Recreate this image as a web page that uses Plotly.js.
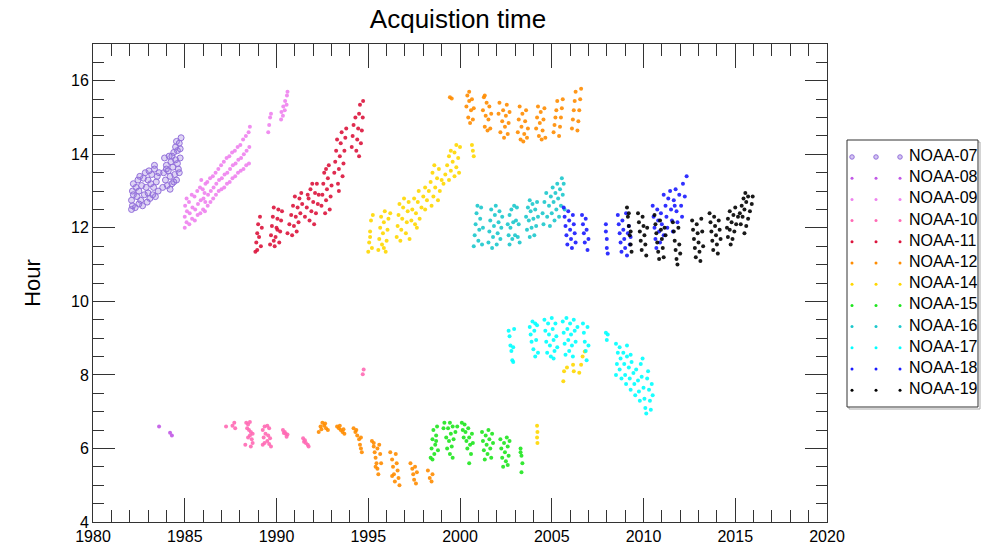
<!DOCTYPE html>
<html><head><meta charset="utf-8">
<script src="https://cdn.plot.ly/plotly-3.0.1.min.js"></script>
<style>html,body{margin:0;padding:0;background:#fff}#chart{width:985px;height:544px}</style>
</head><body><div id="chart"></div>
<script>
const satellites = ['NOAA-07','NOAA-08','NOAA-09','NOAA-10','NOAA-11','NOAA-12','NOAA-14','NOAA-15','NOAA-16','NOAA-17','NOAA-18','NOAA-19'];
const colors = ['#9370db','#c158e6','#ee82ee','#ff69b4','#dc143c','#ff8c00','#ffd700','#1ee61e','#1cc8cc','#00ffff','#1a1aff','#000000'];

const noaa07 = [[1982.1,12.5],[1982.1,12.75],[1982.15,13.0],[1982.2,13.2],[1982.15,12.6],[1982.2,12.9],[1982.3,12.55],[1982.35,13.1],[1982.4,12.85],[1982.45,13.3],[1982.5,12.65],[1982.5,13.0],[1982.55,13.4],[1982.6,12.75],[1982.65,13.15],[1982.7,12.6],[1982.75,13.35],[1982.8,12.9],[1982.85,13.5],[1982.9,13.1],[1982.95,12.7],[1983.0,13.3],[1983.0,12.95],[1983.05,13.55],[1983.1,12.8],[1983.15,13.2],[1983.2,13.45],[1983.25,12.9],[1983.3,13.1],[1983.35,13.6],[1983.4,12.85],[1983.45,13.25],[1983.5,13.4],[1983.55,13.0],[1983.6,13.5],[1983.35,13.7],
 [1983.8,13.1],[1983.85,13.5],[1983.9,13.9],[1983.95,13.3],[1984.0,13.7],[1984.05,13.15],[1984.1,13.55],[1984.15,13.95],[1984.2,13.4],[1984.25,13.8],[1984.3,13.2],[1984.35,13.65],[1984.4,14.05],[1984.45,13.45],[1984.5,13.85],[1984.55,13.3],[1984.6,14.1],[1984.65,13.6],[1984.7,14.3],[1984.75,13.9],[1984.8,14.45],[1984.5,14.2],[1984.3,13.95],[1984.6,13.75],[1984.7,13.5],[1984.4,13.25],[1984.55,14.35],[1984.75,14.15],[1984.2,13.05],[1984.0,13.6]];

const noaa08 = [[1983.6,6.6],[1984.2,6.43],[1984.3,6.35]];

const noaa09 = [[1985.0,12.0],[1985.0,12.3],[1985.02,12.6],[1985.1,12.15],[1985.12,12.45],[1985.1,12.8],[1985.25,12.1],[1985.27,12.4],[1985.23,12.7],[1985.4,12.25],[1985.42,12.55],[1985.38,12.9],[1985.55,12.2],[1985.57,12.5],[1985.53,12.85],[1985.7,12.35],[1985.72,12.65],[1985.68,13.0],[1985.85,12.4],[1985.87,12.75],[1985.83,13.1],[1985.9,13.3],[1986.0,12.5],[1986.02,12.8],[1985.98,13.05],[1986.1,12.45],[1986.12,12.7],[1986.08,12.95],[1986.13,13.2],[1986.25,12.6],[1986.27,12.9],[1986.23,13.25],[1986.4,12.7],[1986.42,13.0],[1986.38,13.35],[1986.55,12.8],[1986.57,13.1],[1986.53,13.4],[1986.7,12.9],[1986.72,13.2],[1986.68,13.5],[1986.85,13.0],[1986.87,13.3],[1986.83,13.6],[1987.0,13.05],[1987.02,13.35],[1986.98,13.7],[1987.15,13.1],[1987.17,13.45],[1987.13,13.8],[1987.3,13.2],[1987.32,13.5],[1987.28,13.9],[1987.45,13.25],[1987.47,13.6],[1987.43,13.95],[1987.6,13.35],[1987.62,13.7],[1987.58,14.05],[1987.75,13.4],[1987.77,13.75],[1987.73,14.1],[1987.9,13.5],[1987.92,13.85],[1987.88,14.2],[1988.05,13.55],[1988.07,13.9],[1988.03,14.25],[1988.2,13.6],[1988.22,14.0],[1988.18,14.4],[1988.35,13.7],[1988.37,14.1],[1988.33,14.5],[1988.5,13.75],[1988.52,14.2],[1988.48,14.6],[1988.55,14.75],
 [1989.55,14.6],[1989.6,14.8],[1989.65,15.0],[1989.7,15.1],[1990.25,14.95],[1990.27,15.15],[1990.35,15.05],[1990.37,15.3],[1990.45,15.2],[1990.47,15.45],[1990.55,15.35],[1990.57,15.6],[1990.6,15.7]];

const noaa10 = [[1987.25,6.6],[1987.6,6.62],[1987.7,6.7],[1987.75,6.55],[1988.35,6.7],[1988.45,6.65],[1988.55,6.72],[1988.4,6.55],[1988.5,6.5],[1988.6,6.45],[1988.55,6.35],[1988.65,6.25],[1988.7,6.15],[1988.6,6.05],[1988.3,6.1],[1988.45,6.3],[1988.7,6.4],[1989.25,6.5],[1989.35,6.6],[1989.5,6.62],[1989.6,6.55],[1989.3,6.3],[1989.4,6.4],[1989.55,6.35],[1989.65,6.28],[1989.25,6.1],[1989.35,6.15],[1989.5,6.2],[1989.6,6.12],[1989.7,6.05],[1990.35,6.5],[1990.45,6.45],[1990.5,6.4],[1990.6,6.38],[1990.55,6.32],[1990.4,6.42],[1991.45,6.28],[1991.55,6.22],[1991.6,6.15],[1991.7,6.1],[1991.75,6.05],[1991.5,6.18],[1994.75,8.15],[1994.7,8.02]];

const noaa11 = [[1988.85,11.35],[1988.9,11.6],[1988.95,11.85],[1989.0,12.1],[1989.1,12.3],[1989.15,11.5],[1989.05,11.75],[1989.2,12.0],[1988.95,11.4],
 [1989.65,11.55],[1989.7,11.8],[1989.75,12.05],[1989.8,12.3],[1989.85,12.55],[1989.9,11.5],[1989.95,11.75],[1990.0,12.0],[1990.05,12.25],[1990.1,12.5],[1990.15,11.6],[1990.2,11.9],[1990.25,12.2],[1990.3,12.45],[1989.85,11.65],[1990.05,11.95],
 [1990.6,11.85],[1990.7,12.1],[1990.8,12.35],[1990.9,12.6],[1991.0,12.85],[1990.85,11.8],[1990.95,12.05],[1991.05,12.3],[1991.15,12.55],[1991.25,12.8],[1991.1,11.9],[1991.2,12.15],[1991.3,12.4],[1991.4,12.65],[1991.35,12.95],
 [1991.55,12.3],[1991.65,12.55],[1991.75,12.8],[1991.85,13.05],[1991.8,12.2],[1991.9,12.45],[1992.0,12.7],[1992.1,12.95],[1992.2,13.2],[1992.05,12.1],[1992.15,12.4],[1992.25,12.65],[1992.3,12.9],[1991.95,13.2],[1991.7,12.9],
 [1992.45,12.6],[1992.5,12.9],[1992.55,13.2],[1992.6,13.5],[1992.65,12.4],[1992.7,12.75],[1992.75,13.05],[1992.8,13.35],[1992.85,13.7],[1992.9,12.5],[1992.95,12.85],[1993.0,13.15],[1992.7,13.6],
 [1993.15,13.5],[1993.2,13.8],[1993.25,14.1],[1993.3,14.4],[1993.35,13.2],[1993.4,13.6],[1993.45,13.95],[1993.5,14.3],[1993.55,14.6],[1993.6,13.4],[1993.65,13.75],[1993.7,14.1],[1993.75,14.45],[1993.4,13.0],[1993.8,14.7],
 [1994.1,14.2],[1994.15,14.5],[1994.2,14.8],[1994.3,15.0],[1994.35,14.1],[1994.4,14.4],[1994.45,14.7],[1994.5,15.1],[1994.55,15.35],[1994.6,14.3],[1994.65,14.65],[1994.7,15.0],[1994.72,15.45],[1994.5,13.95]];

const noaa12 = [[1992.3,6.45],[1992.4,6.6],[1992.5,6.7],[1992.6,6.62],[1992.7,6.55],[1992.8,6.5],[1992.45,6.52],[1992.65,6.68],
 [1993.3,6.6],[1993.4,6.55],[1993.5,6.5],[1993.6,6.45],[1993.7,6.4],[1993.45,6.62],[1993.65,6.52],
 [1994.2,6.55],[1994.3,6.45],[1994.4,6.35],[1994.5,6.25],[1994.55,6.1],[1994.6,6.0],[1994.65,5.9],[1994.35,6.5],[1994.6,6.3],
 [1995.2,6.2],[1995.3,6.05],[1995.35,5.9],[1995.4,5.75],[1995.45,5.6],[1995.5,5.45],[1995.55,5.3],[1995.6,6.1],[1995.65,5.85],[1995.7,5.6],[1995.3,6.15],[1995.5,6.0],[1995.4,5.5],
 [1996.2,5.9],[1996.3,5.7],[1996.35,5.5],[1996.4,5.3],[1996.45,5.1],[1996.5,5.85],[1996.55,5.6],[1996.6,5.4],[1996.65,5.2],[1996.7,5.0],[1996.3,5.25],
 [1997.3,5.6],[1997.4,5.45],[1997.45,5.3],[1997.5,5.15],[1997.55,5.5],[1997.6,5.05],[1997.65,5.35],
 [1998.25,5.4],[1998.35,5.2],[1998.45,5.1],[1998.5,5.3],
 [1999.45,15.55],[1999.55,15.52],
 [2000.35,15.3],[2000.4,15.6],[2000.45,15.0],[2000.5,15.45],[2000.55,14.85],[2000.6,15.2],[2000.65,15.5],[2000.7,14.95],[2000.75,15.25],[2000.5,15.7],
 [2001.25,15.2],[2001.3,15.55],[2001.35,14.75],[2001.4,15.05],[2001.45,15.4],[2001.5,14.65],[2001.55,14.95],[2001.6,15.3],[2001.65,14.7],[2001.7,15.1],[2001.35,15.6],
 [2002.1,15.1],[2002.15,15.4],[2002.2,14.6],[2002.3,14.9],[2002.35,15.2],[2002.4,14.45],[2002.45,14.75],[2002.5,15.05],[2002.55,15.35],[2002.6,14.55],[2002.65,14.85],[2002.7,15.15],
 [2003.15,14.6],[2003.2,14.95],[2003.25,15.3],[2003.3,14.4],[2003.35,14.75],[2003.4,15.1],[2003.45,14.35],[2003.5,14.55],[2003.55,14.9],[2003.6,15.2],[2003.65,14.45],[2003.7,14.7],
 [2004.15,14.7],[2004.2,15.0],[2004.25,15.3],[2004.3,14.5],[2004.35,14.85],[2004.4,15.15],[2004.45,14.4],[2004.5,14.65],[2004.55,14.95],[2004.6,15.25],[2004.65,14.45],
 [2005.1,14.6],[2005.15,14.8],[2005.2,15.0],[2005.25,15.2],[2005.3,15.45],[2005.4,14.5],[2005.45,14.75],[2005.5,15.0],[2005.55,15.25],[2005.6,15.5],
 [2006.1,14.7],[2006.15,14.95],[2006.2,15.2],[2006.25,15.45],[2006.3,15.7],[2006.4,14.65],[2006.45,14.9],[2006.5,15.2],[2006.55,15.5],[2006.6,15.78]];

const noaa14 = [[1995.0,11.35],[1995.05,11.6],[1995.1,11.9],[1995.15,12.2],[1995.2,11.45],[1995.25,12.35],[1995.1,11.75],
 [1995.55,11.4],[1995.6,11.7],[1995.65,12.0],[1995.7,12.3],[1995.75,11.55],[1995.8,11.85],[1995.85,12.15],[1995.9,12.45],[1995.95,11.35],[1996.0,11.65],[1996.05,11.95],[1996.1,12.25],[1996.2,12.4],[1995.85,11.45],
 [1996.55,11.75],[1996.6,12.05],[1996.65,12.35],[1996.7,12.65],[1996.75,11.65],[1996.8,11.95],[1996.85,12.25],[1996.9,12.55],[1996.95,12.8],[1997.05,11.85],[1997.1,12.15],[1997.15,12.45],[1997.2,12.7],[1997.25,11.7],
 [1997.35,12.2],[1997.4,12.5],[1997.5,12.8],[1997.55,12.1],[1997.6,12.4],[1997.7,12.7],[1997.75,13.0],[1997.8,12.25],[1997.9,12.55],[1998.0,12.85],[1998.1,13.1],[1997.65,12.0],
 [1998.1,12.5],[1998.2,12.75],[1998.3,13.0],[1998.4,13.25],[1998.5,13.5],[1998.45,12.6],[1998.55,12.85],[1998.65,13.1],[1998.75,13.35],[1998.85,13.6],[1998.8,12.75],[1998.9,13.0],[1999.0,13.3],[1998.6,13.7],
 [1999.1,13.2],[1999.2,13.45],[1999.3,13.7],[1999.4,13.95],[1999.5,14.1],[1999.4,13.3],[1999.5,13.55],[1999.6,13.8],[1999.7,14.05],[1999.8,14.25],[1999.7,13.4],[1999.8,13.65],[1999.9,13.9],[2000.0,14.2],[1999.95,13.5],
 [2000.65,14.25],[2000.7,14.1],[2000.75,13.95],
 [2004.2,6.62],[2004.22,6.45],[2004.2,6.3],[2004.22,6.15],
 [2005.63,7.83],[2005.67,8.1],[2005.83,8.2],[2006.16,8.28],[2006.2,8.1],[2006.5,8.06],[2006.6,8.28],[2006.68,8.5],[2006.8,8.64]];

const noaa15 = [[1998.4,5.75],[1998.45,6.0],[1998.5,6.25],[1998.55,6.5],[1998.6,5.85],[1998.65,6.1],[1998.7,6.35],[1998.75,6.6],[1998.8,5.95],[1998.5,5.7],[1998.7,6.2],
 [1999.1,6.55],[1999.15,6.7],[1999.25,6.3],[1999.35,6.55],[1999.45,6.7],[1999.3,6.0],[1999.4,6.2],[1999.5,6.4],[1999.6,6.6],[1999.45,5.85],[1999.55,6.05],[1999.65,6.25],[1999.75,6.45],[1999.85,6.6],[1999.6,5.75],
 [2000.1,6.7],[2000.15,6.5],[2000.2,6.3],[2000.25,6.65],[2000.3,6.45],[2000.35,6.2],[2000.4,6.0],[2000.45,6.55],[2000.5,6.3],[2000.55,6.1],[2000.6,5.85],[2000.65,6.4],[2000.7,6.15],[2000.5,5.6],
 [2001.2,6.45],[2001.25,6.2],[2001.3,5.95],[2001.35,5.7],[2001.4,6.35],[2001.45,6.1],[2001.5,5.85],[2001.55,6.5],[2001.6,6.25],[2001.65,6.0],[2001.7,5.75],[2001.75,6.4],[2001.8,6.15],
 [2002.2,6.25],[2002.25,6.0],[2002.3,5.75],[2002.35,5.5],[2002.4,6.15],[2002.45,5.9],[2002.5,5.65],[2002.55,6.3],[2002.6,6.05],[2002.65,5.8],[2002.7,6.2],[2002.6,5.55],
 [2003.3,6.0],[2003.35,5.8],[2003.4,5.6],[2003.35,5.35],[2003.3,5.9]];

const noaa16 = [[2000.75,11.5],[2000.8,11.8],[2000.85,12.1],[2000.9,12.4],[2001.0,11.65],[2001.05,11.95],[2001.1,12.25],[2001.15,12.55],[2001.2,11.55],[2001.25,12.0],[2000.95,12.6],
 [2001.55,11.6],[2001.6,11.9],[2001.65,12.2],[2001.7,12.5],[2001.75,11.45],[2001.8,11.75],[2001.85,12.05],[2001.9,12.35],[2001.95,12.6],[2002.0,11.55],[2002.05,11.85],[2002.1,12.15],[2002.15,12.45],[2002.2,11.7],[2002.25,12.0],[2002.3,12.3],
 [2002.6,12.1],[2002.7,12.35],[2002.8,12.5],[2002.95,12.6],[2003.1,12.55],[2002.65,11.8],[2002.75,12.0],[2002.9,12.15],[2003.05,12.2],[2003.2,12.1],[2002.7,11.55],[2002.85,11.7],[2003.0,11.8],[2003.15,11.75],[2003.25,11.6],
 [2003.6,12.3],[2003.7,12.55],[2003.8,12.75],[2003.65,11.95],[2003.75,12.2],[2003.85,12.45],[2003.95,12.65],[2003.8,11.75],[2003.9,12.0],[2004.0,12.25],[2004.1,12.5],[2004.2,12.7],[2004.05,11.8],[2004.15,12.05],[2004.25,12.3],
 [2004.5,12.4],[2004.6,12.7],[2004.7,12.95],[2004.55,12.1],[2004.75,12.3],[2004.85,12.6],[2004.95,12.85],[2005.05,13.1],[2004.9,12.05],[2005.0,12.4],[2005.1,12.7],[2005.2,12.95],[2005.3,13.2],[2005.15,12.2],[2005.25,12.5],[2005.35,12.8],[2005.45,13.05],[2005.55,13.35],[2005.4,12.3],[2005.5,12.6],[2005.6,12.9],[2005.65,13.2],[2005.7,12.5]];

const noaa17 = [[2002.65,9.2],[2002.7,9.05],[2002.75,8.8],[2002.8,8.65],[2002.85,8.4],[2002.9,8.35],[2002.95,9.25],[2002.9,8.75],
 [2003.8,9.3],[2003.85,9.1],[2003.9,8.9],[2003.95,9.45],[2004.0,8.7],[2004.05,9.2],[2004.1,8.5],[2004.15,8.95],[2004.2,9.35],[2004.25,8.6],[2004.1,9.4],
 [2004.6,9.5],[2004.65,9.2],[2004.7,8.9],[2004.75,8.6],[2004.8,9.4],[2004.85,9.1],[2004.9,8.8],[2004.95,8.5],[2005.0,9.55],[2005.05,9.25],[2005.1,8.95],[2005.15,8.65],[2005.2,9.4],[2005.25,9.05],[2005.3,8.75],[2005.1,8.45],
 [2005.6,9.45],[2005.65,9.15],[2005.7,8.85],[2005.75,8.55],[2005.8,9.55],[2005.85,9.25],[2005.9,8.95],[2005.95,8.65],[2006.0,9.4],[2006.05,9.1],[2006.1,8.8],[2006.15,8.5],[2006.2,9.5],[2006.25,9.2],[2006.3,8.9],[2006.4,9.3],
 [2006.7,9.4],[2006.75,9.15],[2006.8,8.9],[2006.85,8.65],[2006.9,8.4],[2006.95,9.3],[2007.0,8.8],
 [2007.95,9.15],[2008.0,8.95],[2008.05,9.1],
 [2008.5,8.85],[2008.6,8.6],[2008.55,8.3],[2008.5,8.0],[2008.7,8.75],[2008.75,8.45],[2008.7,8.15],[2008.8,7.9],[2008.9,8.6],[2008.95,8.3],[2009.0,8.0],[2009.05,7.75],[2009.1,8.5],[2009.2,8.2],[2009.25,7.9],[2009.3,7.6],[2009.35,8.35],[2009.45,8.05],[2009.5,7.75],[2009.55,7.45],[2009.6,8.15],[2009.7,7.85],[2009.75,7.55],[2009.8,7.3],[2009.85,8.3],[2009.9,7.95],[2010.0,7.65],[2010.05,7.35],[2010.1,7.1],[2010.15,6.95],[2010.2,7.9],[2010.3,7.6],[2010.35,7.3],[2010.4,7.05],[2010.45,7.75],[2010.5,7.45],[2009.1,8.8],[2009.3,8.55],[2009.95,8.45],[2010.25,8.1]];

const noaa18 = [[2005.65,12.55],[2005.7,12.3],[2005.75,12.05],[2005.8,11.8],[2005.85,11.55],[2005.9,12.45],[2005.95,12.2],[2006.0,11.95],[2006.05,11.7],[2006.1,11.45],[2006.15,12.35],[2006.2,12.1],[2006.25,11.85],[2006.3,11.6],
 [2006.65,12.35],[2006.7,12.1],[2006.75,11.85],[2006.8,11.6],[2006.85,12.25],[2006.9,11.95],[2006.95,11.4],[2007.0,11.7],
 [2007.95,12.1],[2007.95,11.9],[2008.0,11.7],[2008.0,11.45],[2008.05,11.3],
 [2008.6,12.35],[2008.65,12.1],[2008.7,11.85],[2008.75,11.6],[2008.8,11.35],[2008.85,12.2],[2008.9,11.95],[2008.95,11.7],[2009.0,11.45],[2009.05,12.4],[2009.1,11.25],[2009.15,11.85],[2009.2,12.05],[2009.25,11.55],[2009.3,11.75],
 [2010.5,12.6],[2010.55,12.3],[2010.6,12.0],[2010.65,11.7],[2010.7,11.45],[2010.75,12.5],[2010.8,12.2],[2010.85,11.9],[2010.9,11.6],[2010.95,12.4],[2011.0,12.1],[2011.1,11.8],
 [2011.1,12.9],[2011.2,12.6],[2011.25,12.3],[2011.3,12.0],[2011.35,12.8],[2011.45,13.0],[2011.5,12.5],[2011.55,12.2],[2011.6,11.9],[2011.65,12.75],[2011.75,13.05],[2011.8,12.45],[2011.85,12.15],[2011.95,12.9],[2012.05,12.6],[2012.1,12.3],[2012.15,13.2],[2012.25,12.85],[2012.35,13.4],[2011.7,12.6]];

const noaa19 = [[2009.1,12.55],[2009.15,12.3],[2009.2,12.05],[2009.25,11.8],[2009.3,11.55],[2009.35,11.35],[2009.2,12.4],[2009.3,11.9],
 [2009.7,12.4],[2009.75,12.15],[2009.8,11.9],[2009.85,11.65],[2009.9,11.4],[2009.95,12.3],[2010.0,12.05],[2010.05,11.8],[2010.1,11.55],[2010.15,11.25],[2010.2,12.0],
 [2010.6,12.35],[2010.65,12.1],[2010.7,11.85],[2010.75,11.6],[2010.8,11.35],[2010.85,11.15],[2010.9,12.2],[2010.95,11.95],[2011.0,11.7],[2011.05,11.45],[2011.1,11.2],[2011.15,12.0],[2011.2,11.8],
 [2011.6,12.15],[2011.65,11.9],[2011.7,11.65],[2011.75,11.4],[2011.8,11.15],[2011.85,11.0],[2011.9,12.0],[2011.95,11.55],[2012.0,11.3],
 [2012.65,12.2],[2012.7,11.95],[2012.75,11.7],[2012.8,11.45],[2012.85,11.2],[2012.9,12.1],[2012.95,11.85],[2013.0,11.6],[2013.05,11.35],[2013.1,11.1],[2013.15,12.25],[2013.2,11.9],[2013.25,11.5],
 [2013.6,12.4],[2013.65,12.15],[2013.7,11.9],[2013.75,11.65],[2013.8,11.4],[2013.85,12.3],[2013.9,12.05],[2013.95,11.8],[2014.0,11.55],[2014.05,11.3],[2014.1,12.2],[2014.15,11.95],[2014.2,11.7],
 [2014.55,12.0],[2014.6,12.25],[2014.7,12.45],[2014.6,11.75],[2014.7,11.95],[2014.8,12.15],[2014.9,12.35],[2015.0,12.55],[2014.75,11.55],[2014.85,11.7],[2014.95,11.9],[2015.05,12.1],[2015.15,12.3],
 [2015.25,12.4],[2015.35,12.6],[2015.45,12.8],[2015.55,12.95],[2015.3,12.1],[2015.4,12.3],[2015.5,12.5],[2015.6,12.7],[2015.7,12.85],[2015.5,11.85],[2015.6,12.05],[2015.7,12.25],[2015.8,12.45],[2015.9,12.65],[2015.95,12.85]];

const seriesData = [noaa07, noaa08, noaa09, noaa10, noaa11, noaa12, noaa14, noaa15, noaa16, noaa17, noaa18, noaa19];

const FONT = 'Liberation Sans, Arial, Helvetica, sans-serif';
const AXC = '#333';
const traces = [];
seriesData.forEach((d, i) => {
  const isOpen = i === 0;
  traces.push({
    type: 'scatter', mode: 'markers', name: satellites[i],
    x: d.map(p => p[0]), y: d.map(p => p[1]),
    showlegend: false, hoverinfo: 'skip',
    marker: isOpen
      ? {symbol: 'circle', size: 6, color: 'rgba(147,112,219,0.3)', line: {color: colors[i], width: 1}}
      : {symbol: 'circle', size: 4, color: colors[i], opacity: 0.9, line: {width: 0}}
  });
});
// custom legend (three markers + label per row)
const legX = [5, 29, 53];
satellites.forEach((s, i) => {
  traces.push({
    type: 'scatter', mode: 'markers', xaxis: 'x2', yaxis: 'y2',
    x: legX, y: legX.map(() => i), showlegend: false, hoverinfo: 'skip', cliponaxis: false,
    marker: i === 0 ? {size: 4.5, color: 'rgba(147,112,219,0.4)', line: {color: colors[i], width: 1}}
                    : {size: 3, color: colors[i]}
  });
});
traces.push({
  type: 'scatter', mode: 'text', xaxis: 'x2', yaxis: 'y2', cliponaxis: false,
  x: satellites.map(() => 62), y: satellites.map((s, i) => i), text: satellites,
  textposition: 'middle right', textfont: {family: FONT, size: 16, color: '#000'},
  showlegend: false, hoverinfo: 'skip'
});

const W = 985, H = 544, L = 93, R = 7, T = 44, B = 22;
const pw = W - L - R, ph = H - T - B;
const px = v => (v - L) / pw;
const py = v => (H - B - v) / ph;

const layout = {
  width: W, height: H,
  margin: {l: L, r: R, t: T, b: B, pad: 0},
  paper_bgcolor: '#fff', plot_bgcolor: '#fff',
  font: {family: FONT, color: '#000'},
  showlegend: false,
  title: {text: 'Acquistion time', font: {family: FONT, size: 26, color: '#000'},
          x: px(458), xref: 'paper', xanchor: 'center', y: 1 - 19 / H, yref: 'container', yanchor: 'middle'},
  xaxis: {
    domain: [0, px(827)], range: [1980, 2020], tickmode: 'linear', tick0: 1980, dtick: 5,
    ticks: 'inside', ticklen: 24, tickwidth: 1, tickcolor: AXC,
    showline: true, linecolor: AXC, linewidth: 1, mirror: 'allticks',
    showgrid: false, zeroline: false, automargin: false,
    tickfont: {family: FONT, size: 16, color: '#000'},
    minor: {tick0: 1980, dtick: 1, ticks: 'inside', ticklen: 12, tickwidth: 1, tickcolor: AXC, showgrid: false}
  },
  yaxis: {
    domain: [0, 1], range: [4, 17], tickmode: 'linear', tick0: 4, dtick: 2,
    ticks: 'inside', ticklen: 22, tickwidth: 1, tickcolor: AXC,
    showline: true, linecolor: AXC, linewidth: 1, mirror: 'allticks',
    showgrid: false, zeroline: false, automargin: false,
    tickfont: {family: FONT, size: 16, color: '#000'},
    minor: {tick0: 4, dtick: 0.5, ticks: 'inside', ticklen: 11, tickwidth: 1, tickcolor: AXC, showgrid: false},
    title: {text: 'Hour', font: {family: FONT, size: 22, color: '#000'}, standoff: 24}
  },
  xaxis2: {domain: [px(847), px(978)], range: [0, 131], visible: false, anchor: 'y2', fixedrange: true},
  yaxis2: {domain: [py(407), py(140)], range: [11.79, -0.80], visible: false, anchor: 'x2', fixedrange: true},
  shapes: [
    {type: 'rect', xref: 'paper', yref: 'paper', x0: px(849), x1: px(980), y0: py(409), y1: py(142),
     line: {color: '#aaa', width: 1}, fillcolor: 'rgba(0,0,0,0)', layer: 'below'},
    {type: 'rect', xref: 'paper', yref: 'paper', x0: px(847), x1: px(978), y0: py(407), y1: py(140),
     line: {color: '#333', width: 1}, fillcolor: '#fff', layer: 'below'}
  ]
};

Plotly.newPlot('chart', traces, layout, {staticPlot: true, displayModeBar: false});
</script>
</body></html>
